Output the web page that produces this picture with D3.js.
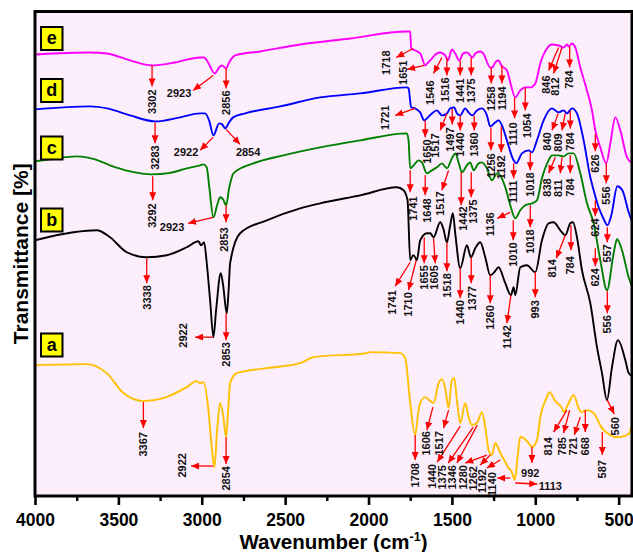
<!DOCTYPE html>
<html><head><meta charset="utf-8">
<script src="https://cdn.jsdelivr.net/npm/d3@7"></script>
<style>
html,body{margin:0;padding:0;background:#fff;}
svg{display:block;}
text{font-family:"Liberation Sans",Arial,Helvetica,sans-serif;font-weight:bold;}
</style></head><body>
<svg id="chart" width="633" height="552"></svg>
<script>
// ---------- DATA ----------
const xTicks = [4000,3500,3000,2500,2000,1500,1000,500];
const xMinorTicks = [3750,3250,2750,2250,1750,1250,750];
const seriesNames = ["a","b","c","d","e"];
const seriesColors = ["#ffc000","#000000","#008000","#0000ff","#ff00ff"];

// [wavenumber (cm-1), stacked transmittance (a.u.)]
const specA = [[4000,131],[3690,132],[3570,123],[3470,103],[3350,95],[3230,98],[3090,109],[3030,115],[3010,113],[2990,114],[2960,86],[2944,56],[2924,29],[2908,66],[2890,93],[2872,81],[2854,59],[2842,86],[2830,113],[2790,123],[2610,128],[2410,133],[2330,139],[2010,143],[1990,144],[1810,143],[1780,138],[1750,93],[1720,61],[1700,86],[1690,93],[1660,99],[1630,95],[1610,93],[1580,113],[1560,117],[1540,108],[1520,88],[1500,116],[1486,118],[1470,96],[1450,73],[1420,93],[1400,79],[1380,71],[1350,73],[1320,84],[1300,69],[1280,46],[1260,41],[1240,53],[1210,43],[1180,34],[1160,28],[1140,24],[1124,16],[1110,33],[1090,59],[1070,58],[1040,53],[1020,49],[990,56],[970,79],[930,99],[916,104],[880,95],[840,88],[830,84],[800,93],[770,101],[740,88],[724,84],[690,86],[650,83],[600,68],[560,62],[520,59],[490,59],[440,62],[418,72]];
const specB = [[4000,256],[3770,264],[3630,266],[3550,259],[3450,244],[3330,239],[3210,241],[3090,249],[3020,255],[3004,251],[2986,254],[2970,233],[2950,196],[2930,159],[2914,186],[2886,223],[2872,211],[2850,183],[2839,206],[2830,233],[2770,263],[2610,276],[2410,288],[2290,293],[2050,301],[1830,309],[1790,306],[1766,296],[1750,236],[1732,241],[1720,239],[1710,236],[1690,256],[1650,263],[1630,263],[1610,259],[1570,274],[1552,268],[1530,254],[1510,271],[1494,283],[1480,263],[1450,228],[1410,251],[1386,239],[1360,248],[1330,254],[1300,239],[1270,221],[1246,224],[1220,229],[1180,213],[1146,201],[1130,209],[1120,201],[1090,229],[1050,231],[1000,224],[960,256],[920,273],[890,274],[850,266],[820,261],[790,273],[774,274],[750,259],[720,226],[670,193],[630,149],[600,123],[570,96],[540,129],[504,156],[460,136],[440,123],[418,120]];
const specC = [[4000,335],[3910,337],[3750,340],[3640,337],[3550,331],[3430,325],[3300,322],[3190,323.5],[3090,328],[3010,331],[2990,332],[2970,329],[2956,311],[2930,279],[2908,291],[2890,299],[2872,297],[2854,291],[2836,308],[2810,323],[2690,333],[2510,341],[2290,349],[2050,356],[1770,363],[1760,356],[1750,328],[1730,331],[1700,336],[1680,334],[1650,323],[1620,326],[1590,329],[1560,333],[1530,328],[1500,338],[1480,343],[1460,334],[1440,324],[1410,331],[1390,334],[1370,326],[1340,333],[1320,334],[1290,328],[1260,316],[1230,323],[1210,321],[1180,309],[1150,291],[1120,278],[1090,286],[1060,291],[1020,293],[990,296],[960,318],[920,336],[900,341],[860,341],[830,340],[800,343],[770,343],[730,323],[690,293],[650,273],[610,236],[570,206],[530,243],[510,257],[480,246],[440,219],[418,209]];
const specD = [[4000,387],[3670,390],[3568,388],[3430,381],[3280,375],[3130,379],[3010,383],[2980,383],[2956,376],[2930,361],[2896,373],[2878,372],[2860,368],[2836,374],[2812,379],[2740,383],[2530,390],[2290,399],[2050,403],[1770,409],[1760,408],[1744,389],[1720,388],[1690,384],[1666,376],[1650,378],[1620,383],[1590,386],[1560,381],[1530,383],[1510,388],[1486,389],[1470,383],[1450,381],[1420,388],[1400,384],[1378,381],[1350,386],[1320,388],[1290,381],[1270,370],[1240,374],[1220,376],[1200,371],[1170,356],[1130,336],[1114,333],[1080,343],[1040,346],[1020,344],[990,356],[950,376],[900,388],[860,384],[830,386],[810,383],[780,388],[750,383],[710,356],[670,319],[650,306],[620,289],[592,278],[568,271],[544,281],[508,310],[478,306],[440,284],[418,274]];
const specE = [[4000,442],[3670,444],[3568,443],[3430,436],[3298,431],[3160,434],[3010,439],[2986,439],[2962,434],[2922,423],[2896,429],[2878,431],[2855,428],[2836,434],[2800,441],[2650,445],[2410,452],[2110,458],[1774,465],[1750,465],[1744,448],[1720,446],[1690,443],[1660,431],[1648,433],[1630,436],[1590,443],[1570,444],[1540,441],[1524,436],[1500,447],[1480,443],[1456,436],[1432,443],[1410,444],[1390,441],[1376,439],[1360,443],[1330,445],[1312,443],[1270,429],[1258,429],[1240,434],[1220,436],[1204,431],[1170,426],[1150,414],[1120,399],[1090,406],[1060,409],[1030,409],[1000,413],[970,433],[930,448],[900,452],[860,451],[830,449],[810,452],[800,450],[780,453],[760,449],[730,429],[690,406],[660,386],[640,366],[610,349],[574,333],[550,353],[520,379],[490,366],[450,339],[418,333]];

// peak annotations: [label, arrow start wn, value, arrow tip wn, value, label wn, value, rotated]
const peaksA = [["3367",3350,94,3350,68,3350,64,1],["2922",2932,30,3064,30,3118,43,1],["2854",2854,59,2854,32,2854,30,1],["1708",1720,61,1720,36,1720,33,1],["1606",1614,89,1650,66,1654,65,1],["1517",1520,86,1550,68,1574,65,1],["1440",1450,70,1588,34,1620,32,1],["1375",1372,69,1522,33,1560,31,1],["1346",1348,71,1470,33,1500,31,1],["1280",1290,41,1420,33,1432,31,1],["1262",1270,41,1330,31,1372,30,1],["1192",1210,36,1290,28,1318,27,1],["1140",1150,18,1228,18,1258,24,1],["992",1020,49,1020,33,1030,23,0],["1113",1120,13,988,12,910,10,0],["814",810,86,890,64,920,59,1],["785",794,86,830,63,840,59,1],["721",730,79,766,61,772,59,1],["668",700,86,700,64,700,59,1],["587",598,64,598,41,598,36,1]];
const peaksB = [["3338",3330,238,3330,213,3330,211,1],["2922",2932,159,3040,159,3112,173,1],["2853",2854,183,2854,156,2854,154,1],["1741",1750,234,1840,210,1858,206,1],["1710",1714,236,1760,206,1760,204,1],["1655",1666,259,1666,233,1666,231,1],["1605",1610,258,1600,233,1604,231,1],["1518",1530,254,1530,225,1530,223,1],["1440",1450,228,1450,198,1450,196,1],["1377",1384,239,1384,213,1380,210,1],["1260",1270,221,1270,193,1270,191,1],["1142",1146,201,1170,173,1170,171,1],["993",1000,224,1000,199,1000,196,1],["814",820,261,874,238,898,237,1],["784",786,271,786,246,790,240,1],["560",568,96,526,82,520,79,1]];
const peaksC = [["3292",3294,320,3294,296,3300,293,1],["2923",2932,279,3082,273,3178,269,0],["2853",2854,291,2854,274,2866,269,1],["1741",1750,326,1750,304,1732,300,1],["1648",1660,321,1660,301,1648,298,1],["1517",1520,326,1560,306,1570,305,1],["1442",1444,324,1444,291,1432,290,1],["1375",1384,324,1384,299,1375,297,1],["1136",1150,284,1228,278,1270,284,1],["1010",1132,276,1132,256,1132,254,1],["1018",1030,291,1030,269,1030,267,1],["838",880,339,920,323,930,318,1],["811",840,339,850,323,860,317,1],["784",790,341,790,323,790,318,1],["624",640,248,640,230,640,228,1],["556",568,205,568,183,568,181,1]];
const peaksD = [["3283",3280,374,3280,353,3280,351,1],["2922",2932,359,3010,346,3094,344,0],["2854",2854,367,2770,352,2722,344,0],["1721",1720,388,1840,381,1900,391,1],["1650",1660,376,1660,359,1650,357,1],["1517",1530,383,1570,366,1600,363,1],["1497",1498,388,1498,372,1510,369,1],["1440",1450,381,1450,366,1450,364,1],["1360",1366,381,1366,366,1366,364,1],["1256",1266,369,1266,346,1266,343,1],["1192",1204,370,1204,344,1204,341,1],["1111",1130,333,1130,318,1130,316,1],["1018",1030,344,1030,326,1030,324,1],["840",862,383,900,366,930,364,1],["809",820,383,840,366,860,363,1],["784",790,386,790,368,790,364,1],["624",640,296,640,280,640,278,1],["557",568,269,568,254,568,252,1]];
const peaksE = [["3302",3298,431,3298,410,3298,407,1],["2923",2932,421,3052,406,3136,403,0],["2856",2854,428,2854,408,2854,406,1],["1718",1732,448,1834,439,1894,446,1],["1651",1666,431,1768,427,1792,436,1],["1546",1560,439,1610,423,1630,416,1],["1516",1530,439,1530,421,1540,419,1],["1441",1450,436,1450,421,1450,418,1],["1375",1384,439,1384,421,1384,418,1],["1258",1264,429,1264,413,1264,410,1],["1194",1200,431,1200,413,1200,410,1],["1110",1124,399,1124,378,1130,374,1],["1054",1060,409,1060,386,1050,383,1],["846",860,449,920,426,935,421,1],["812",840,449,890,423,880,419,1],["784",794,450,794,429,794,426,1],["626",640,362,640,345,640,342,1],["556",574,333,574,313,574,310,1]];

// ---------- LAYOUT ----------
const specs = [specA,specB,specC,specD,specE];
const peaks = [peaksA,peaksB,peaksC,peaksD,peaksE];
const boxCenters = [345,220,148,90.5,38.5]; // pixel y of the a..e tag boxes
const L=35, R=632, T=11.5, B=496;

const svg = d3.select("#chart");
const x = d3.scaleLinear().domain([4000,420]).range([L,R]);
const y = d3.scaleLinear().domain([0,485]).range([B,T]);

const defs = svg.append("defs");
defs.append("clipPath").attr("id","clip").append("rect")
  .attr("x",L).attr("y",T).attr("width",R-L).attr("height",B-T);
defs.append("marker").attr("id","ah").attr("viewBox","0 0 10 10")
  .attr("refX",10).attr("refY",5).attr("markerWidth",8).attr("markerHeight",7)
  .attr("markerUnits","userSpaceOnUse").attr("orient","auto")
  .attr("preserveAspectRatio","none")
  .append("path").attr("d","M0,0L10,5L0,10Z").attr("fill","#ff0000");

svg.append("rect").attr("x",L).attr("y",T).attr("width",R-L).attr("height",B-T)
  .attr("fill","#fdeefb");

const line = d3.line().x(d=>x(d[0])).y(d=>y(d[1])).curve(d3.curveMonotoneX);
const plot = svg.append("g").attr("clip-path","url(#clip)");
specs.forEach((s,i)=>{
  plot.append("path").datum(s).attr("d",line).attr("fill","none")
    .attr("stroke",seriesColors[i]).attr("stroke-width",1.9).attr("stroke-linejoin","round");
});

const allPeaks = peaks.flat();
const ann = svg.append("g");
ann.selectAll("line.arr").data(allPeaks).join("line").attr("class","arr")
  .attr("x1",d=>x(d[1])).attr("y1",d=>y(d[2]))
  .attr("x2",d=>x(d[3])).attr("y2",d=>y(d[4]))
  .attr("stroke","#ff0000").attr("stroke-width",1.3).attr("marker-end","url(#ah)");
ann.selectAll("text.pk").data(allPeaks).join("text").attr("class","pk")
  .attr("transform",d=>`translate(${x(d[5])},${y(d[6])})`+(d[7]?" rotate(-90)":""))
  .attr("text-anchor",d=>d[7]?"end":"middle")
  .attr("dy","0.35em").attr("font-size",11).attr("fill","#111")
  .text(d=>d[0]);

// tag boxes
const tags = svg.append("g");
seriesNames.forEach((n,i)=>{
  tags.append("rect").attr("x",41).attr("y",boxCenters[i]-11.5).attr("width",21.5).attr("height",23)
    .attr("fill","#ffff00").attr("stroke","#000").attr("stroke-width",2);
  tags.append("text").attr("x",51.75).attr("y",boxCenters[i]).attr("dy","0.33em")
    .attr("text-anchor","middle").attr("font-size",18).text(n);
});

// frame
svg.append("rect").attr("x",L).attr("y",T).attr("width",R-L).attr("height",B-T)
  .attr("fill","none").attr("stroke","#000").attr("stroke-width",3);

// axes
const ax = svg.append("g").attr("transform",`translate(0,${B})`)
  .call(d3.axisBottom(x).tickValues(xTicks).tickSize(9).tickPadding(8.5).tickFormat(d3.format("d")));
ax.select(".domain").remove();
ax.selectAll(".tick line").attr("stroke-width",2.6);
ax.selectAll(".tick text").attr("font-size",17.5).attr("fill","#000")
  .style("font-family",'"Liberation Sans",Arial,sans-serif').style("font-weight","bold");
const axm = svg.append("g").attr("transform",`translate(0,${B})`)
  .call(d3.axisBottom(x).tickValues(xMinorTicks).tickSize(5).tickFormat(""));
axm.select(".domain").remove();
axm.selectAll(".tick line").attr("stroke-width",2.4);

const xt = svg.append("text").attr("x",(L+R)/2).attr("y",548.5).attr("text-anchor","middle").attr("font-size",20.5);
xt.append("tspan").text("Wavenumber (cm");
xt.append("tspan").attr("font-size",12.5).attr("dy",-8).text("-1");
xt.append("tspan").attr("dy",8).text(")");

svg.append("text").attr("transform",`translate(28,${(T+B)/2}) rotate(-90)`)
  .attr("text-anchor","middle").attr("font-size",21).text("Transmittance [%]");
</script>
</body></html>
